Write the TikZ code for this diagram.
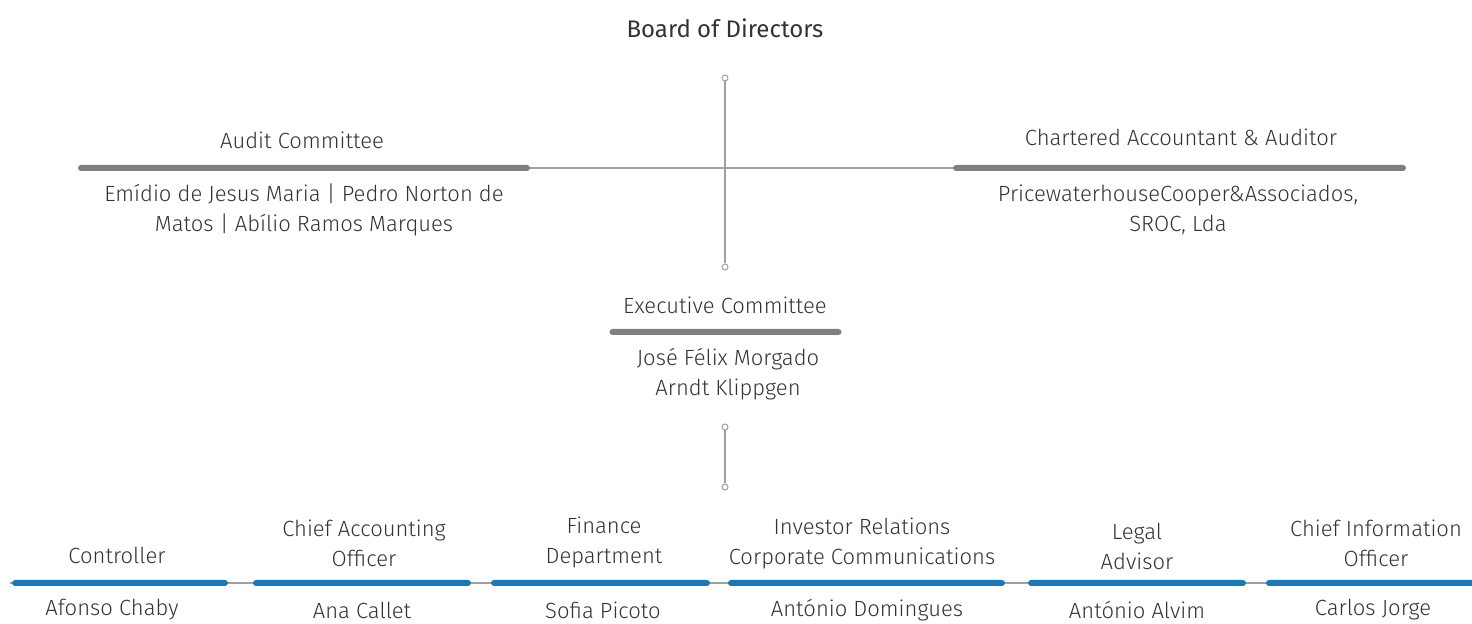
\documentclass[tikz,border=0pt]{standalone}
\usepackage{fontspec}
\setmainfont{Fira Sans}[UprightFont={* Light}]
\newfontfamily\boardfont{Fira Sans}
\definecolor{txtgray}{HTML}{333333}
\definecolor{bargray}{HTML}{7F7F7F}
\definecolor{linegray}{HTML}{A0A0A0}
\definecolor{barblue}{HTML}{1A78B4}
\tikzset{
  lbl/.style={text=txtgray, align=center, inner sep=0pt, font=\fontsize{11}{15}\selectfont},
  graybar/.style={fill=bargray, minimum height=3pt, inner sep=0pt, rounded corners=1.5pt},
  bluebar/.style={fill=barblue, minimum height=3pt, inner sep=0pt, rounded corners=1.5pt},
  thin/.style={draw=linegray, line width=0.6pt},
  dot/.style={circle, draw=linegray, fill=white, line width=0.5pt, minimum size=3pt, inner sep=0pt}
}
\begin{document}
\begin{tikzpicture}[x=0.5pt,y=-0.5pt]
\useasboundingbox (0,0) rectangle (1472,624);
%
         \node [lbl, font=\boardfont\fontsize{12}{15}\selectfont] (board) at (725,28) {Board of Directors};

         \node [graybar, minimum width=226pt] (auditbar)   at (304,168)  {};
         \node [graybar, minimum width=226.5pt] (charterbar) at (1179.5,168) {};
         \draw [thin] (auditbar.east) -- (charterbar.west);

         \node [dot] (d1) at (725,78)  {};
         \node [dot] (d2) at (725,267) {};
         \draw [thin] (d1) -- (d2);

         \node [lbl] (audit)    at (302,140)  {Audit Committee};
         \node [lbl] (auditnm)  at (304,209.5) {Emídio de Jesus Maria | Pedro Norton de\\Matos | Abílio Ramos Marques};
         \node [lbl] (charter)  at (1181,137) {Chartered Accountant \& Auditor};
         \node [lbl] (charternm) at (1178,209.5) {PricewaterhouseCooper\&Associados,\\SROC, Lda};

         \node [lbl] (exec)   at (725,305) {Executive Committee};
         \node [graybar, minimum width=116pt] (execbar) at (725.5,332) {};
         \node [lbl] (execnm) at (728,374) {José Félix Morgado\\Arndt Klippgen};

         \node [dot] (d3) at (725,427) {};
         \node [dot] (d4) at (725,487) {};
         \draw [thin] (d3) -- (d4);

         % bottom row
         \coordinate (rowL) at (10,583);
         \coordinate (rowR) at (1472,583);
         \draw [thin] (rowL) -- (rowR);

         \node [bluebar, minimum width=108pt]   (b1) at (120,583)   {};
         \node [bluebar, minimum width=109pt]   (b2) at (362,583)   {};
         \node [bluebar, minimum width=109.5pt] (b3) at (600.5,583) {};
         \node [bluebar, minimum width=138.5pt] (b4) at (866.5,583) {};
         \node [bluebar, minimum width=109pt]   (b5) at (1137,583)  {};
         \node [bluebar, minimum width=110pt]   (b6) at (1376,583)  {};

         \node [lbl] (t1) at (117,555)  {Controller};
         \node [lbl] (t2) at (364,543)  {Chief Accounting\\Officer};
         \node [lbl] (t3) at (604,542)  {Finance\\Department};
         \node [lbl] (t4) at (862,543)  {Investor Relations\\Corporate Communications};
         \node [lbl] (t5) at (1137,546) {Legal\\Advisor};
         \node [lbl] (t6) at (1376,543) {Chief Information\\Officer};

         \node [lbl] (n1) at (112,610)  {Afonso Chaby};
         \node [lbl] (n2) at (362,610)  {Ana Callet};
         \node [lbl] (n3) at (603,610)  {Sofia Picoto};
         \node [lbl] (n4) at (867,610)  {António Domingues};
         \node [lbl] (n5) at (1137,610) {António Alvim};
         \node [lbl] (n6) at (1373,610) {Carlos Jorge};

\end{tikzpicture}
\end{document}
